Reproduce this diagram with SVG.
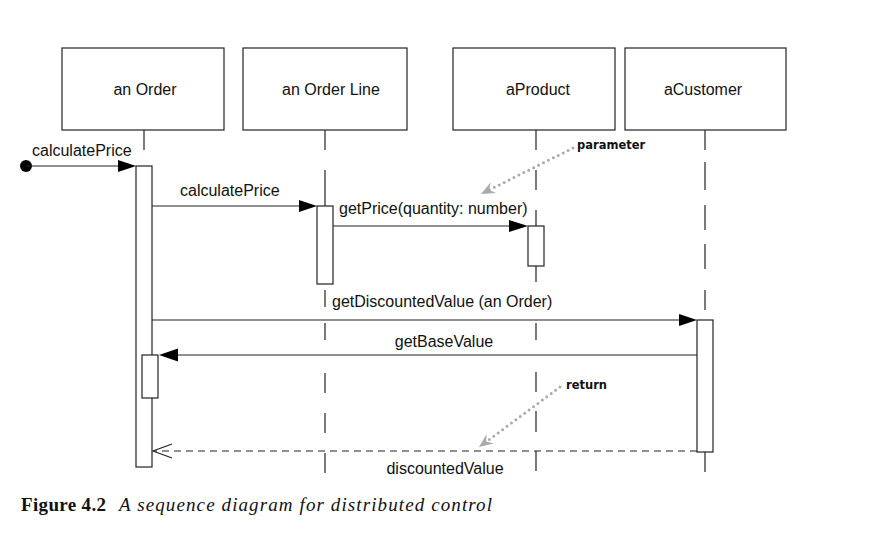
<svg xmlns="http://www.w3.org/2000/svg" width="873" height="553" viewBox="0 0 873 553">
<style>
.box{fill:#fff;stroke:#222;stroke-width:1.2}
.act{fill:#fff;stroke:#222;stroke-width:1.2}
.life{fill:none;stroke:#222;stroke-width:1.2}
.msg{fill:none;stroke:#222;stroke-width:1.2}
.ret{fill:none;stroke:#222;stroke-width:1.2;stroke-dasharray:7 5}
.head{fill:#000;stroke:none}
.open{fill:none;stroke:#222;stroke-width:1.2}
.lbl{font-family:"Liberation Sans",Arial,sans-serif;font-size:16px;fill:#111}
.name{font-family:"Liberation Sans",Arial,sans-serif;font-size:16px;fill:#111;text-anchor:middle}
.note{font-family:"DejaVu Sans",sans-serif;font-weight:bold;font-size:11.5px;fill:#111}
.dots{fill:none;stroke:#aaa;stroke-width:3;stroke-linecap:round;stroke-dasharray:0 5.5}
.ghead{fill:#aaa;stroke:none}
.cap{font-family:"Liberation Serif","Times New Roman",serif;font-size:19px;fill:#111}
</style>
<rect width="873" height="553" fill="#fff"/>

<g id="node-anOrder">
<rect class="box" x="62" y="48" width="162" height="82"/>
<text class="name" x="145" y="95">an Order</text>
<path class="life" d="M144 130V150"/>
<rect class="act" x="136" y="166" width="16" height="301"/>
<rect class="act" x="142" y="355" width="16" height="43"/>
</g>

<g id="node-anOrderLine">
<rect class="box" x="243" y="48" width="164" height="82"/>
<text class="name" x="331" y="95">an Order Line</text>
<path class="life" d="M325 130V150M325 170V190M325 190V206M325 290V307M325 323V340M325 373V393M325 413V433M325 453V473"/>
<rect class="act" x="317" y="206" width="16" height="78"/>
</g>

<g id="node-aProduct">
<rect class="box" x="453" y="48" width="162" height="82"/>
<text class="name" x="538" y="95">aProduct</text>
<path class="life" d="M536 130V150M536 170V190M536 210V226M536 266V282M536 323V340M536 372V392M536 411V432M536 451V471"/>
<rect class="act" x="528" y="226" width="16" height="40"/>
</g>

<g id="node-aCustomer">
<rect class="box" x="625" y="48" width="161" height="82"/>
<text class="name" x="703" y="95">aCustomer</text>
<path class="life" d="M705 130V150M705 162V190M705 205V230M705 244V269M705 290V310M705 452V472"/>
<rect class="act" x="697" y="320" width="16" height="132"/>
</g>

<g id="connectors">
<circle cx="26" cy="166" r="6" fill="#000"/>
<path class="msg" d="M26 166H120"/>
<path class="head" d="M136 166L118 160V172Z"/>
<text class="lbl" x="32" y="156">calculatePrice</text>

<path class="msg" d="M152 206H300"/>
<path class="head" d="M317 206L299 200V212Z"/>
<text class="lbl" x="180" y="196">calculatePrice</text>

<path class="msg" d="M333 226H510"/>
<path class="head" d="M528 226L509 220V232Z"/>
<text class="lbl" x="339" y="214">getPrice(quantity: number)</text>

<path class="msg" d="M152 320H680"/>
<path class="head" d="M697 320L679 314V326Z"/>
<text class="lbl" x="332" y="307">getDiscountedValue (an Order)</text>

<path class="msg" d="M697 355H176"/>
<path class="head" d="M159 355L178 348.5V361.5Z"/>
<text class="lbl" x="444" y="347" text-anchor="middle">getBaseValue</text>

<path class="ret" d="M697 451H154"/>
<path class="open" d="M172 444L153 451L172 458"/>
<text class="lbl" x="445" y="474" text-anchor="middle">discountedValue</text>

<path class="dots" d="M573 148L489 190"/>
<path class="ghead" d="M481 194L496.2 193.1L489 190L490.8 182.3Z"/>
<text class="note" x="577" y="149">parameter</text>

<path class="dots" d="M560 387L486 442"/>
<path class="ghead" d="M479 447L493.9 443.5L486.2 441.6L486.7 433.9Z"/>
<text class="note" x="566" y="389">return</text>
</g>

<text class="cap" x="21" y="511" font-weight="bold" textLength="85" lengthAdjust="spacing">Figure 4.2</text>
<text class="cap" x="119" y="511" font-style="italic" textLength="373" lengthAdjust="spacing">A sequence diagram for distributed control</text>
</svg>
